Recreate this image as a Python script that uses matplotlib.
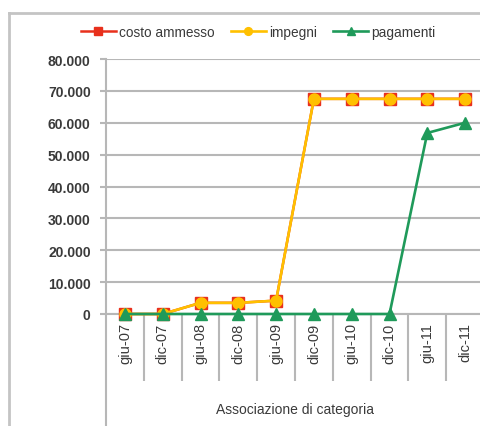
import numpy             as np
import matplotlib
matplotlib.use('Agg')
import matplotlib.pyplot as plt
from matplotlib.lines import Line2D

# Data
categorie     = ['giu-07', 'dic-07', 'giu-08', 'dic-08', 'giu-09',
                 'dic-09', 'giu-10', 'dic-10', 'giu-11', 'dic-11']
costo_ammesso = [0, 0, 3500, 3500, 4200, 67500, 67500, 67500, 67500, 67500]
impegni       = [0, 0, 3500, 3500, 4200, 67500, 67500, 67500, 67500, 67500]
pagamenti     = [0, 0, 0, 0, 0, 0, 0, 0, 56800, 60000]
y_ticks       = [0, 10000, 20000, 30000, 40000, 50000, 60000, 70000, 80000]

W, H = 481, 427
grid_col  = '#b7b7b7'
text_col  = '#3a3a3a'
plt.rcParams['font.family'] = ['Liberation Sans', 'DejaVu Sans']

fig = plt.figure(figsize=(W / 100, H / 100), dpi=100)
left, right, top, bottom = 106, 484, 60, 315
ax = fig.add_axes([left / W, 1 - bottom / H, (right - left) / W, (bottom - top) / H])

x = np.arange(len(categorie))
ax.plot(x, costo_ammesso, color='#e8301c', lw=1.8, marker='s', ms=8.5,
        mfc='#e8301c', mec='#e8301c', zorder=3, clip_on=False, label='costo ammesso')
ax.plot(x, impegni, color='#ffc000', lw=1.9, marker='o', ms=8,
        mfc='#ffc000', mec='#ffc000', zorder=4, clip_on=False, label='impegni')
ax.plot(x, pagamenti, color='#1f9a5a', lw=1.9, marker='^', ms=8,
        mfc='#1f9a5a', mec='#1f9a5a', zorder=5, clip_on=False, label='pagamenti')

ax.set_xlim(-0.5, len(categorie) - 0.5)
ax.set_ylim(0, 80000)
ax.set_yticks(y_ticks)
ax.set_yticklabels([f'{v:,}'.replace(',', '.') for v in y_ticks],
                   fontsize=10, fontweight='bold', color=text_col)
ax.yaxis.grid(True, color=grid_col, lw=1.5)
ax.set_axisbelow(True)
ax.tick_params(axis='y', length=4, width=1.5, color=grid_col, pad=7)

ax.set_xticks(x)
ax.set_xticklabels(categorie, rotation=90, fontsize=10.5, color=text_col)
ax.set_xticks(x[:-1] + 0.5, minor=True)
ax.tick_params(axis='x', which='major', length=0, pad=6)
ax.tick_params(axis='x', which='minor', length=48, width=1.5, color=grid_col)

for s in ['top', 'right']:
    ax.spines[s].set_visible(False)
ax.spines['bottom'].set_color(grid_col)
ax.spines['bottom'].set_linewidth(1.5)
ax.spines['left'].set_visible(False)

fig.text(295 / W, 1 - 410 / H, 'Associazione di categoria', fontsize=10,
         color=text_col, ha='center', va='center')

# y axis line running down to the bottom, and outer frame
fig.add_artist(Line2D([left / W, left / W], [0, 1 - top / H], color=grid_col, lw=1.5))
fig.add_artist(Line2D([9 / W, 9 / W], [0, 1 - 14 / H], color='#c4c4c4', lw=2))
fig.add_artist(Line2D([9 / W, 1], [1 - 14 / H, 1 - 14 / H], color='#c4c4c4', lw=2))

fig.legend(loc='center', bbox_to_anchor=(258 / W, 1 - 33 / H), ncol=3, frameon=False,
           fontsize=9.8, handlelength=2.6, handletextpad=0.2, columnspacing=1.2,
           markerscale=0.7, labelcolor=text_col)

fig.savefig('out.png', dpi=100)
